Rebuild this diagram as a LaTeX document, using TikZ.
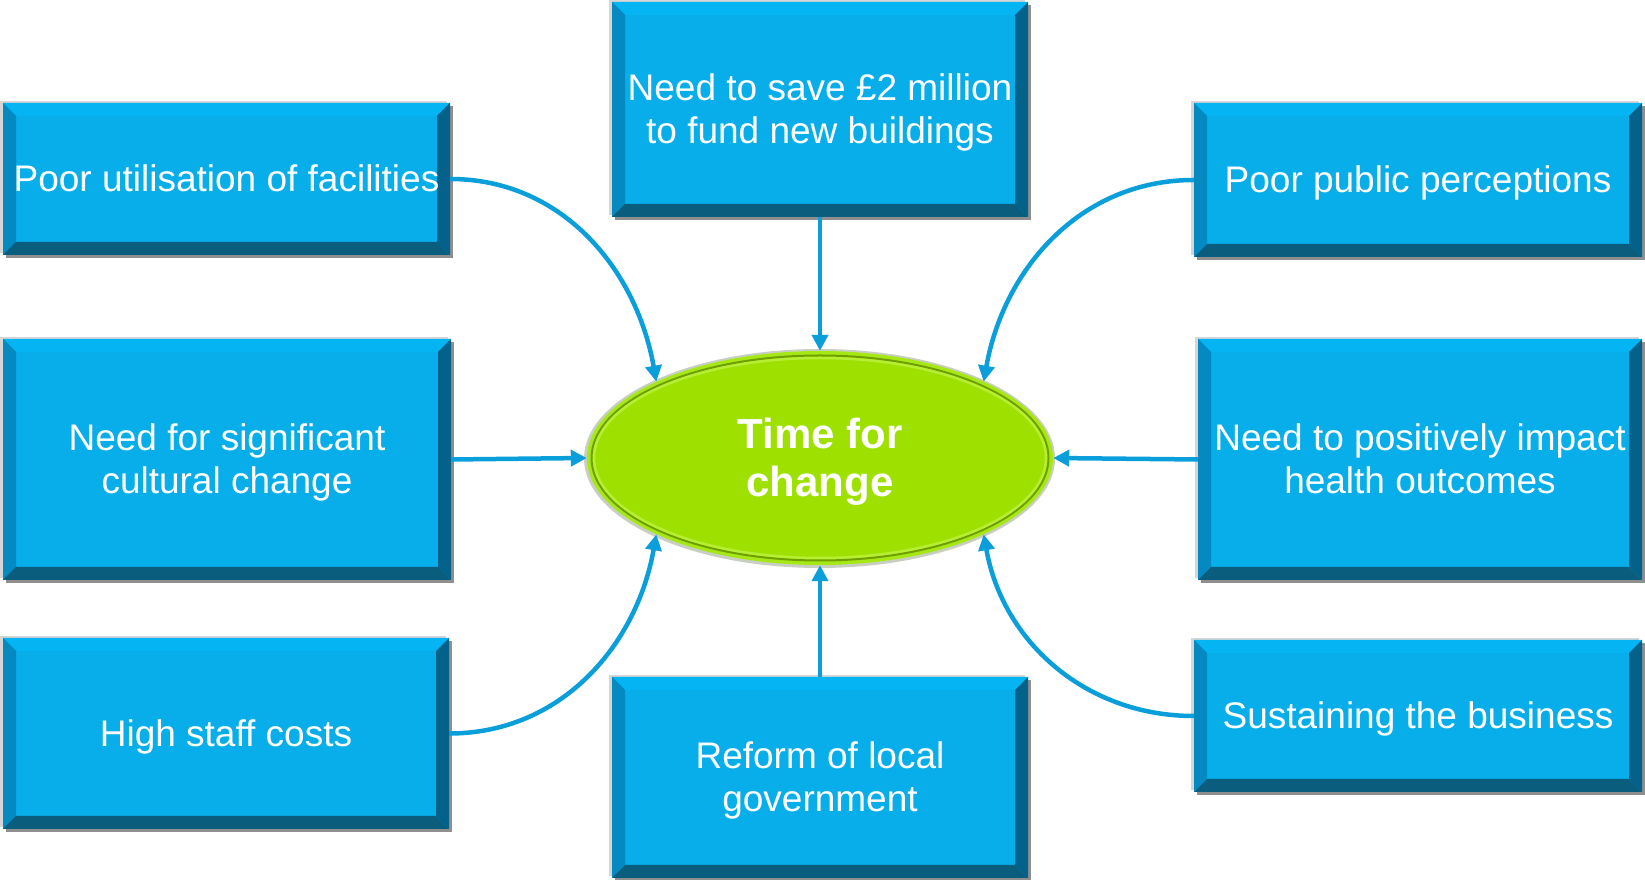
\documentclass[tikz,border=0pt]{standalone}
\usepackage{fontspec}
\setmainfont{Liberation Sans}
\usetikzlibrary{shapes.geometric,arrows.meta,shadows,calc}
\definecolor{face}{HTML}{07AEEA}
\definecolor{bvtop}{HTML}{05B5F3}
\definecolor{bvleft}{HTML}{0489C0}
\definecolor{bvright}{HTML}{03618A}
\definecolor{bvbottom}{HTML}{0B5D7D}
\definecolor{shlight}{HTML}{D6D6D6}
\definecolor{shdark}{HTML}{8F8F8F}
\definecolor{arrowblue}{HTML}{0A9FDB}
\definecolor{greenfill}{HTML}{9EE000}
\definecolor{rimband}{HTML}{A6E816}
\definecolor{rimlight}{HTML}{B6EE34}
\definecolor{rimdark}{HTML}{6E9E00}
\definecolor{rimedge}{HTML}{C9CEC2}
\newcommand\boxstrut{\rule[-7.8pt]{0pt}{41.3pt}}
\newcommand\ovalstrut{\rule[-8.9pt]{0pt}{46.9pt}}
\tikzset{
  bevelbox/.style={rectangle, fill=face, text=white, inner sep=0pt, align=center,
    font=\fontsize{37}{43}\selectfont,
    general shadow={fill=shlight, shadow xshift=-3pt, shadow yshift=2pt},
    general shadow={fill=shdark, shadow xshift=3pt, shadow yshift=-3pt},
    path picture={
      \coordinate (ppnw) at (path picture bounding box.north west);
      \coordinate (ppsw) at (path picture bounding box.south west);
      \coordinate (ppne) at (path picture bounding box.north east);
      \coordinate (ppse) at (path picture bounding box.south east);
      \coordinate (ipnw) at ([shift={(13pt,-13pt)}]ppnw);
      \coordinate (ipsw) at ([shift={(13pt,13pt)}]ppsw);
      \coordinate (ipne) at ([shift={(-13pt,-13pt)}]ppne);
      \coordinate (ipse) at ([shift={(-13pt,13pt)}]ppse);
      \fill[bvtop] (ppnw) -- (ppne) -- (ipne) -- (ipnw) -- cycle;
      \fill[bvleft] (ppnw) -- (ppsw) -- (ipsw) -- (ipnw) -- cycle;
      \fill[bvright] (ppne) -- (ppse) -- (ipse) -- (ipne) -- cycle;
      \fill[bvbottom] (ppsw) -- (ppse) -- (ipse) -- (ipsw) -- cycle;
    }},
  centreoval/.style={ellipse, fill=rimband, inner sep=0pt, align=center, text=white,
    minimum width=466pt, minimum height=214pt,
    font=\fontsize{42}{48}\selectfont\bfseries,
    path picture={
      \fill[greenfill] (path picture bounding box.center) ellipse [x radius=228pt, y radius=102pt];
      \draw[rimdark, line width=2pt] (path picture bounding box.center) ellipse [x radius=228.5pt, y radius=102.5pt];
      \draw[rimlight, line width=2.5pt] (path picture bounding box.center) ellipse [x radius=226pt, y radius=100pt];
    }},
  arr/.style={draw=arrowblue, line width=4.5pt, -{Triangle[length=16pt,width=16pt]}},
}
\begin{document}
\begin{tikzpicture}[x=1pt,y=1pt]
\useasboundingbox (0,0) rectangle (1645,880);
% boxes
\node[bevelbox, minimum width=447pt, minimum height=152pt] (util) at (226.5,701) {\boxstrut Poor utilisation of facilities};
\node[bevelbox, minimum width=448pt, minimum height=241pt] (sig) at (227,420.5) {\boxstrut Need for significant\\\boxstrut cultural change};
\node[bevelbox, minimum width=446pt, minimum height=191pt] (staff) at (226,146.5) {\boxstrut High staff costs};
\node[bevelbox, minimum width=416pt, minimum height=215pt] (save) at (820,770.5) {\boxstrut Need to save £2 million\\\boxstrut to fund new buildings};
\node[bevelbox, minimum width=416pt, minimum height=201pt] (reform) at (820,102.5) {\boxstrut Reform of local\\\boxstrut government};
\node[bevelbox, minimum width=448pt, minimum height=154pt] (public) at (1418,700) {\boxstrut Poor public perceptions};
\node[bevelbox, minimum width=444pt, minimum height=241pt] (pos) at (1420,420.5) {\boxstrut Need to positively impact\\\boxstrut health outcomes};
\node[bevelbox, minimum width=448pt, minimum height=152pt] (sustain) at (1418,164) {\boxstrut Sustaining the business};
% centre
\fill[rimedge] (819.5,421.5) ellipse [x radius=235.5, y radius=109.5];
\node[centreoval] (c) at (820,422) {\ovalstrut Time for\\\ovalstrut change};
% connectors
\draw[arr] (save) -- (c);
\draw[arr] (reform) -- (c);
\draw[arr] (sig.east) -- (c.west);
\draw[arr] (pos.west) -- (c.east);
\draw[arr] (util.east) to[out=0,in=100] (c.155);
\draw[arr] (public.west) to[out=180,in=80] (c.25);
\draw[arr] (staff.east) to[out=0,in=260] (c.205);
\draw[arr] (sustain.west) to[out=180,in=280] (c.335);
\end{tikzpicture}
\end{document}
